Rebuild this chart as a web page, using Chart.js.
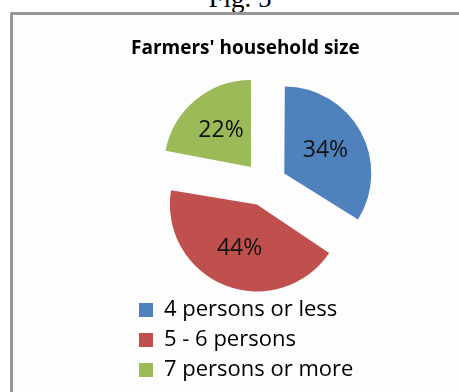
<!DOCTYPE html>
<html>
<head>
<meta charset="utf-8">
<script src="https://cdn.jsdelivr.net/npm/chart.js@4/dist/chart.umd.min.js"></script>
<style>
  html, body { margin: 0; padding: 0; background: #ffffff; overflow: hidden; }
  #page { position: relative; width: 459px; height: 392px; overflow: hidden; }
  #fig { position: absolute; left: 0; width: 480px; top: -15px; text-align: center;
         font-family: "Liberation Serif", serif; font-size: 27px; line-height: 1; color: #000; }
  #box { position: absolute; left: 10px; top: 12px; width: 480px; height: 420px;
         border-left: 3px solid #979797; border-top: 3px solid #979797; border-top-left-radius: 2px;
         background: #fdfdfd; box-sizing: border-box; }
  #wrap { position: absolute; left: 0; top: 0; width: 459px; height: 392px; }
</style>
</head>
<body>
<div id="page">
  <div id="fig">Fig. 5</div>
  <div id="box"></div>
  <div id="wrap"><canvas id="c" width="459" height="392"></canvas></div>
</div>
<script>
// ---- data ----
const chartTitle = "Farmers' household size";
const categories = ["4 persons or less", "5 - 6 persons", "7 persons or more"];
const shares = [34, 44, 22];
const sliceColors = ["#4F81BD", "#C0504D", "#9BBB59"];

const PIE_RADIUS = 87;
const EXPLODE = 22;
const FONT = '"Open Sans", sans-serif';

const total = shares.reduce((a, b) => a + b, 0);
const pctLabels = shares.map(v => Math.round(v / total * 100) + "%");

// keep all slices the same radius when exploded
const equalRadius = {
  id: 'equalRadius',
  afterDatasetUpdate(chart, args) {
    args.meta.data.forEach(arc => {
      const off = ((arc.options && arc.options.offset) || 0) / 4;
      const fix = 1 - Math.sin(Math.min(Math.PI, arc.circumference || 0));
      arc.outerRadius = PIE_RADIUS - off * fix;
    });
  }
};

const sliceLabels = {
  id: 'sliceLabels',
  afterDatasetsDraw(chart) {
    const ctx = chart.ctx;
    const meta = chart.getDatasetMeta(0);
    ctx.save();
    ctx.font = '23px ' + FONT;
    ctx.fillStyle = '#111';
    ctx.textAlign = 'center';
    ctx.textBaseline = 'middle';
    meta.data.forEach((arc, i) => {
      const mid = (arc.startAngle + arc.endAngle) / 2;
      const off = ((arc.options && arc.options.offset) || 0) / 4;
      const r = off + 0.54 * PIE_RADIUS;
      ctx.fillText(pctLabels[i], arc.x + Math.cos(mid) * r, arc.y + Math.sin(mid) * r);
    });
    ctx.restore();
  }
};

new Chart(document.getElementById('c'), {
  type: 'pie',
  data: {
    labels: categories,
    datasets: [{
      data: shares,
      backgroundColor: sliceColors,
      borderWidth: 0,
      offset: EXPLODE * 4,
      hoverOffset: 0
    }]
  },
  options: {
    responsive: false,
    animation: false,
    radius: PIE_RADIUS,
    layout: { padding: { top: 30, left: 131, right: 60, bottom: 1 } },
    plugins: {
      title: {
        display: true,
        text: chartTitle,
        align: 'start',
        color: '#000',
        font: { family: FONT, size: 19, weight: 'bold' },
        padding: { top: 7, bottom: 17.2 }
      },
      legend: {
        position: 'bottom',
        align: 'start',
        fullSize: false,
        labels: {
          color: '#000',
          font: { family: FONT, size: 22 },
          boxWidth: 14,
          boxHeight: 14,
          padding: 8
        }
      },
      tooltip: { enabled: false }
    }
  },
  plugins: [equalRadius, sliceLabels]
});
</script>
</body>
</html>
